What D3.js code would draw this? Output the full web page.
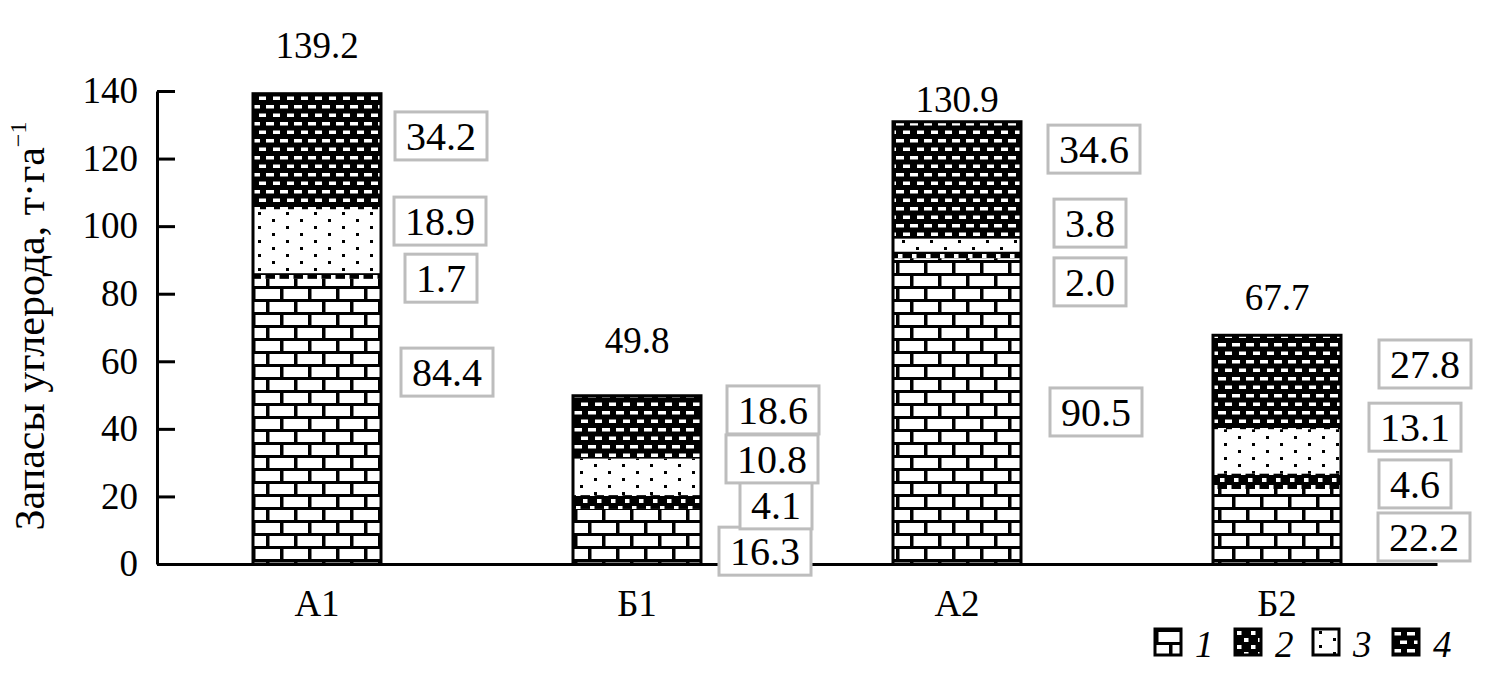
<!DOCTYPE html>
<html>
<head>
<meta charset="utf-8">
<script src="https://cdn.jsdelivr.net/npm/d3@7"></script>
<style>
  body { margin: 0; background: #fff; }
  svg text { font-family: "Liberation Serif", "DejaVu Serif", "Times New Roman", serif !important; fill: #000; }
</style>
</head>
<body>
<svg id="chart"></svg>
<script>
// data
var categories = ["А1", "Б1", "А2", "Б2"];
var fraction1 = [84.4, 16.3, 90.5, 22.2];
var fraction2 = [1.7, 4.1, 2.0, 4.6];
var fraction3 = [18.9, 10.8, 3.8, 13.1];
var fraction4 = [34.2, 18.6, 34.6, 27.8];
var totals = [139.2, 49.8, 130.9, 67.7];
var yTicks = [0, 20, 40, 60, 80, 100, 120, 140];
var legendLabels = ["1", "2", "3", "4"];

// where the boxed value labels sit (axis units) and their x shift from bar centre (px)
var labelAt = [
  [56.8, 84.6, 101.5, 126.7],
  [3.8, 17.5, 31.1, 45.6],
  [45.0, 83.5, 100.9, 122.8],
  [8.0, 23.7, 40.5, 59.2]
];
var labelDx = [
  [130, 124, 123, 124],
  [128, 139, 135, 136],
  [139, 133, 133, 137],
  [147, 138, 138, 148]
];
var totalAt = [153.6, 66.3, 137.5, 79.0];

var width = 1486, height = 678;
var svg = d3.select("#chart").attr("width", width).attr("height", height);

var x = d3.scaleBand()
  .domain(categories)
  .range([157, 1437])
  .paddingInner(0.6)
  .paddingOuter(0.3);

var y = d3.scaleLinear()
  .domain([0, 140])
  .range([564, 91]);

// patterns
var defs = svg.append("defs");

var p1 = defs.append("pattern").attr("id", "pat1")
  .attr("patternUnits", "userSpaceOnUse").attr("width", 28).attr("height", 26);
p1.append("rect").attr("width", 28).attr("height", 26).attr("fill", "#fff");
p1.append("rect").attr("x", 0).attr("y", 0).attr("width", 28).attr("height", 3).attr("fill", "#000");
p1.append("rect").attr("x", 0).attr("y", 13).attr("width", 28).attr("height", 3).attr("fill", "#000");
p1.append("rect").attr("x", 0).attr("y", 0).attr("width", 3.5).attr("height", 13).attr("fill", "#000");
p1.append("rect").attr("x", 14).attr("y", 13).attr("width", 3.5).attr("height", 13).attr("fill", "#000");

var p2 = defs.append("pattern").attr("id", "pat2")
  .attr("patternUnits", "userSpaceOnUse").attr("width", 14).attr("height", 14);
p2.append("rect").attr("width", 14).attr("height", 14).attr("fill", "#000");
p2.append("rect").attr("x", 2).attr("y", 2).attr("width", 4.5).attr("height", 4).attr("fill", "#fff");
p2.append("rect").attr("x", 9).attr("y", 9).attr("width", 4.5).attr("height", 4).attr("fill", "#fff");

var p3 = defs.append("pattern").attr("id", "pat3")
  .attr("patternUnits", "userSpaceOnUse").attr("width", 28).attr("height", 14);
p3.append("rect").attr("width", 28).attr("height", 14).attr("fill", "#fff");
p3.append("rect").attr("x", 6).attr("y", 2).attr("width", 3).attr("height", 3).attr("fill", "#000");
p3.append("rect").attr("x", 20).attr("y", 9).attr("width", 3).attr("height", 3).attr("fill", "#000");

var p4 = defs.append("pattern").attr("id", "pat4")
  .attr("patternUnits", "userSpaceOnUse").attr("width", 14).attr("height", 17);
p4.append("rect").attr("width", 14).attr("height", 17).attr("fill", "#000");
p4.append("rect").attr("x", 0).attr("y", 3).attr("width", 8).attr("height", 3.5).attr("fill", "#fff");
p4.append("rect").attr("x", 7).attr("y", 11.5).attr("width", 8).attr("height", 3.5).attr("fill", "#fff");

var fills = ["url(#pat1)", "url(#pat2)", "url(#pat3)", "url(#pat4)"];

// stacked segments
var rows = categories.map(function (c, i) {
  return { cat: c, f1: fraction1[i], f2: fraction2[i], f3: fraction3[i], f4: fraction4[i] };
});
var keys = ["f1", "f2", "f3", "f4"];
var series = d3.stack().keys(keys)(rows);

svg.append("g")
  .selectAll("g")
  .data(series)
  .enter()
  .append("g")
    .attr("fill", function (d, i) { return fills[i]; })
  .selectAll("rect")
  .data(function (d) { return d; })
  .enter()
  .append("rect")
    .attr("x", function (d) { return x(d.data.cat); })
    .attr("y", function (d) { return y(d[1]); })
    .attr("width", x.bandwidth())
    .attr("height", function (d) { return y(d[0]) - y(d[1]); });

// bar outlines
svg.append("g")
  .selectAll("rect")
  .data(categories)
  .enter()
  .append("rect")
    .attr("x", function (d) { return x(d); })
    .attr("y", function (d, i) { return y(totals[i]); })
    .attr("width", x.bandwidth())
    .attr("height", function (d, i) { return y(0) - y(totals[i]); })
    .attr("fill", "none")
    .attr("stroke", "#000")
    .attr("stroke-width", 3);

// axes
var yAxis = svg.append("g")
  .attr("transform", "translate(157,0)")
  .call(d3.axisLeft(y).tickValues(yTicks).tickSizeInner(-18).tickSizeOuter(0).tickPadding(19));
yAxis.attr("font-family", null).attr("font-size", null);
yAxis.selectAll("text").style("font-size", "37px");
yAxis.selectAll("line, path").attr("stroke", "#000").attr("stroke-width", 3);

var xAxis = svg.append("g")
  .attr("transform", "translate(0,564)")
  .call(d3.axisBottom(x).tickSize(0).tickPadding(26));
xAxis.attr("font-family", null).attr("font-size", null);
xAxis.selectAll("text").style("font-size", "37px");
xAxis.select("path").attr("stroke", "#000").attr("stroke-width", 3);

// y axis title
var title = svg.append("text")
  .attr("transform", "translate(44,326) rotate(-90)")
  .attr("text-anchor", "middle")
  .style("font-size", "42px");
title.append("tspan").text("Запасы углерода, т·га");
title.append("tspan").attr("dy", -18).style("font-size", "24px").text("−1");

// totals above bars
svg.append("g")
  .selectAll("text")
  .data(totals)
  .enter()
  .append("text")
    .attr("x", function (d, i) { return x(categories[i]) + x.bandwidth() / 2; })
    .attr("y", function (d, i) { return y(totalAt[i]); })
    .attr("dy", "0.35em")
    .attr("text-anchor", "middle")
    .style("font-size", "37px")
    .text(function (d) { return d.toFixed(1); });

// boxed segment labels
var seriesVals = [fraction1, fraction2, fraction3, fraction4];
var labels = [];
categories.forEach(function (c, i) {
  seriesVals.forEach(function (s, k) {
    labels.push({ v: s[i], cx: x(c) + x.bandwidth() / 2 + labelDx[i][k], cy: y(labelAt[i][k]) });
  });
});

var lab = svg.append("g")
  .selectAll("g")
  .data(labels)
  .enter()
  .append("g")
    .attr("transform", function (d) { return "translate(" + d.cx + "," + d.cy + ")"; });

lab.append("rect").attr("class", "box");
lab.append("text")
  .attr("text-anchor", "middle")
  .attr("dy", "0.35em")
  .style("font-size", "40px")
  .text(function (d) { return d.v.toFixed(1); });
lab.each(function () {
  var g = d3.select(this);
  var w = g.select("text").node().getBBox().width + 22;
  g.select("rect")
    .attr("x", -w / 2).attr("y", -24)
    .attr("width", w).attr("height", 48)
    .attr("fill", "#fff")
    .attr("stroke", "#bdbdbd")
    .attr("stroke-width", 3);
});

// legend
var legendX = [1155, 1235, 1313, 1393];
var leg = svg.append("g")
  .selectAll("g")
  .data(legendLabels)
  .enter()
  .append("g")
    .attr("transform", function (d, i) { return "translate(" + legendX[i] + ",629)"; });
leg.append("rect")
  .attr("width", 26).attr("height", 26)
  .attr("fill", function (d, i) { return fills[i]; })
  .attr("stroke", "#000").attr("stroke-width", 3);
leg.append("text")
  .attr("x", 40).attr("y", 28)
  .style("font-size", "37px")
  .style("font-style", "italic")
  .text(function (d) { return d; });
</script>
</body>
</html>
